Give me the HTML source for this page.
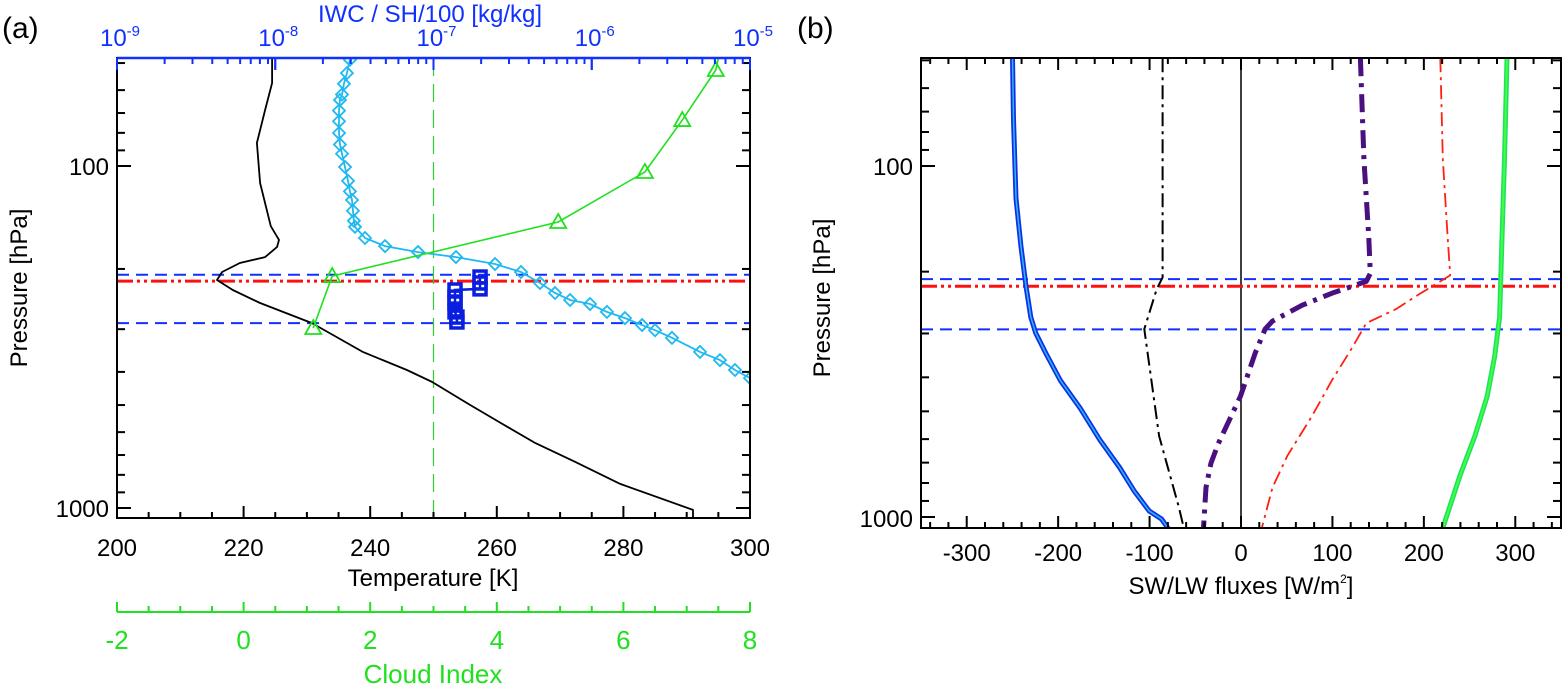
<!DOCTYPE html>
<html><head><meta charset="utf-8"><style>
html,body{margin:0;padding:0;background:#fff;}
svg{display:block;font-family:"Liberation Sans",sans-serif;}
</style></head><body>
<svg id="chart" width="1563" height="686" viewBox="0 0 1563 686" xmlns="http://www.w3.org/2000/svg">
<defs>
<clipPath id="clipA"><rect x="117" y="58" width="633" height="460"/></clipPath>
<clipPath id="clipB"><rect x="921" y="58" width="640" height="470"/></clipPath>
</defs>
<g id="gA"></g>
<g id="gB"></g>
</svg>
<script>
// ---------- Panel (a) data ----------
const tempP = [48.3,57.2,68.6,85.6,112.1,150,164.5,172.4,184.6,192.1,204.2,215.5,230.5,251.5,288,350,395,428,500,564,646,733,850,1013,1070];
const tempK = [224.5,224.5,223.4,222.1,222.6,224.3,225.6,225.3,223.4,219.4,216.6,215.8,218.3,222.6,230.8,238.9,245.8,249.8,255.8,260.6,266.1,272.4,279.5,291.0,291.0];
const cloudP = [40,52.4,73.4,104.1,145.8,209.8,297.7];
const cloudIdx = [7.6,7.46,6.93,6.34,4.97,1.40,1.10];
const iwcP = [48.9,53.5,57.5,61.8,64.1,68.9,74.0,80.1,86.5,92.1,100.7,110.5,118.6,125.7,135.2,144.6,150.6,162.4,171.5,178.5,184.6,193.5,204.2,219.8,235.1,246.5,253.3,267.0,278.4,291.8,302.1,318.0,349.6,369.5,394.9,417.0];
const iwcExp = [-7.528,-7.547,-7.566,-7.578,-7.591,-7.597,-7.597,-7.597,-7.591,-7.578,-7.559,-7.540,-7.528,-7.515,-7.509,-7.503,-7.496,-7.433,-7.306,-7.098,-6.858,-6.611,-6.447,-6.327,-6.232,-6.137,-6.011,-5.904,-5.790,-5.682,-5.600,-5.493,-5.316,-5.190,-5.095,-5.0];
const sqP = [211.2,219.8,228.7,230.5,241.8,251.5,267.0,276.5,285.8];
const sqExp = [-6.706,-6.706,-6.706,-6.864,-6.864,-6.864,-6.864,-6.852,-6.852];
const cloudLevels = [208,288];
const tropLevel = 217;
const ciThreshold = 3;
const tempTicks = [200,220,240,260,280,300];
const ciTicks = [-2,0,2,4,6,8];
const iwcTicks = [-9,-8,-7,-6,-5];
// ---------- Panel (b) data ----------
const swNetP = [49.3,73.6,123.7,168.9,219,269.6,299.1,340.5,408.3,489.8,602.9,722.8,844.7,961.6,1013,1075];
const swNet = [-249.9,-248.8,-246.1,-240.7,-235.3,-229.9,-224.5,-213.7,-197.5,-175.9,-154.3,-132.8,-116.6,-100.4,-86.9,-79.9];
const blkP = [49.3,123.7,207.7,224.7,291.5,587.9,936.8,1075];
const blkF = [-85.8,-85.8,-85.8,-92.3,-105.8,-89.6,-68,-62.6];
const purP = [49.3,95.4,160.3,202.4,213.2,230.5,249.3,276.6,291.5,340.5,452.6,617.4,703.5,824.3,1075];
const purF = [130.6,134.4,139.8,141.4,137.1,99.3,66.9,34.5,26.4,15.6,-0.5,-24.8,-32.9,-38.3,-41];
const redP = [49.3,95.4,160.3,205,213.2,230.5,255.7,280.2,331.8,408.3,515.7,669.1,824.3,1075];
const redF = [218,220.7,226.1,228.8,218,196.4,169.5,137.1,120.9,99.3,77.7,50.7,34.5,22.7];
const lwP = [49.3,95.4,160.3,269.6,349.6,452.6,587.9,760.7,1075];
const lwF = [290.9,288.2,285.5,282.8,277.4,269.3,255.8,239.6,220.7];
const fluxTicks = [-300,-200,-100,0,100,200,300];
const cloudLevelsB = [210,292];
const tropLevelB = 220;

const NS = "http://www.w3.org/2000/svg";
function mk(tag, attrs, parent){const e=document.createElementNS(NS,tag);for(const k in attrs)e.setAttribute(k,attrs[k]);parent.appendChild(e);return e;}
const L10 = Math.log10;
const yA = p => 166 + (L10(p)-2)*342;
const xT = t => 117 + (t-200)*6.33;
const xC = c => 117 + (c+2)*63.3;
const xI = e => 117 + (e+9)*158.25;
const yB = p => 166 + (L10(p)-2)*351;
const xF = f => 1241 + f*(640/700);

const gA = document.getElementById('gA');
const gB = document.getElementById('gB');

function pathD(xs, ys){return xs.map((x,i)=>(i?'L':'M')+x.toFixed(1)+' '+ys[i].toFixed(1)).join(' ');}
function text(parent, x, y, s, opts){const t=mk('text',Object.assign({x:x,y:y,'font-size':24,'text-anchor':'middle',fill:'#000'},opts||{}),parent);t.textContent=s;return t;}

// ===== Panel A =====
const plotA = mk('g',{'clip-path':'url(#clipA)'},gA);


cloudLevels.forEach((p,i)=>{
  const l=mk('line',{x1:117,x2:750,y1:yA(p),y2:yA(p),stroke:'#1030ff','stroke-width':2,'stroke-dasharray':'12 7'},plotA);
  
  
});
const tl=mk('line',{x1:117,x2:750,y1:yA(tropLevel),y2:yA(tropLevel),stroke:'#ff1010','stroke-width':3,'stroke-dasharray':'16 4 3 4 3 4'},plotA);


const vl=mk('line',{x1:xC(ciThreshold),x2:xC(ciThreshold),y1:58,y2:518,stroke:'#30d030','stroke-width':1.2,'stroke-dasharray':'18 8'},plotA);


const tp=mk('path',{d:pathD(tempK.map(xT),tempP.map(yA)),fill:'none',stroke:'#000','stroke-width':1.8,'stroke-linejoin':'round'},plotA);


const cy=mk('path',{d:pathD(iwcExp.map(xI),iwcP.map(yA)),fill:'none',stroke:'#20b8f0','stroke-width':1.8},plotA);


iwcExp.forEach((e,i)=>{
  const x=xI(e),y=yA(iwcP[i]);
  const d=mk('path',{d:`M${x} ${y-6}L${x+6} ${y}L${x} ${y+6}L${x-6} ${y}Z`,fill:'none',stroke:'#20b8f0','stroke-width':1.8},plotA);
  
  
});
const gp=mk('path',{d:pathD(cloudIdx.map(xC),cloudP.map(yA)),fill:'none',stroke:'#20e020','stroke-width':1.6},plotA);


cloudIdx.forEach((c,i)=>{
  if(i===0) return;
  const x=xC(c),y=yA(cloudP[i]);
  const t=mk('path',{d:`M${x} ${y-8}L${x+8} ${y+6}L${x-8} ${y+6}Z`,fill:'none',stroke:'#20e020','stroke-width':1.8},plotA);
  
  
});
const sp=mk('path',{d:pathD(sqExp.map(xI),sqP.map(yA)),fill:'none',stroke:'#0a1ee0','stroke-width':2.5},plotA);


sqExp.forEach((e,i)=>{
  const x=xI(e),y=yA(sqP[i]);
  const r=mk('rect',{x:x-6,y:y-6,width:12,height:12,fill:'none',stroke:'#0a1ee0','stroke-width':3.5},plotA);
  
  
});
const fa=mk('rect',{x:117,y:58,width:633,height:460,fill:'none',stroke:'#000','stroke-width':2},gA);


mk('line',{x1:117,x2:750,y1:58,y2:58,stroke:'#1030ff','stroke-width':2.5},gA);
function pTicks(g, yS, x0, x1){
  [50,60,70,80,90,100,200,300,400,500,600,700,800,900,1000].forEach(p=>{
    const len=(p===100||p===1000)?14:8;
    mk('line',{x1:x0,x2:x0+len,y1:yS(p),y2:yS(p),stroke:'#000','stroke-width':2},g);
    mk('line',{x1:x1,x2:x1-len,y1:yS(p),y2:yS(p),stroke:'#000','stroke-width':2},g);
  });
}
pTicks(gA,yA,117,750);
text(gA,109,175,'100',{'text-anchor':'end'});
text(gA,109,517,'1000',{'text-anchor':'end'});
const ylA=text(gA,0,0,'Pressure [hPa]',{transform:'translate(27,288) rotate(-90)'});


for(let t=200;t<=300;t+=5){const len=t%20===0?12:6;mk('line',{x1:xT(t),x2:xT(t),y1:518,y2:518-len,stroke:'#000','stroke-width':2},gA);}
tempTicks.forEach(t=>{const e=text(gA,xT(t),556,String(t));});
const xt=text(gA,433,586,'Temperature [K]');


mk('line',{x1:117,x2:750,y1:612,y2:612,stroke:'#20e020','stroke-width':2},gA);
for(let c=-2;c<=8;c+=0.5){const len=Math.abs(c%2)<1e-9?10:6;mk('line',{x1:xC(c),x2:xC(c),y1:612,y2:612-len,stroke:'#20e020','stroke-width':2},gA);}
ciTicks.forEach(c=>{const e=text(gA,xC(c),649,String(c),{fill:'#20e020','font-size':26});});
const ct=text(gA,433,683,'Cloud Index',{fill:'#20e020','font-size':26});


for(let d=-9;d<-5;d++){for(let m=1;m<=10;m++){const e=d+L10(m);const len=(m===1||m===10)?12:6;mk('line',{x1:xI(e),x2:xI(e),y1:58,y2:58+len,stroke:'#1030ff','stroke-width':2},gA);}}
iwcTicks.forEach(e=>{
  const t=mk('text',{x:xI(e)+3,y:46,'font-size':24,'text-anchor':'middle',fill:'#1030ff'},gA);
  
  
  t.appendChild(document.createTextNode('10'));
  const s=mk('tspan',{'font-size':15,dy:-10},t);s.textContent=String(e);
});
const it=text(gA,430,22,'IWC / SH/100 [kg/kg]',{fill:'#1030ff'});


const la=text(gA,2,38,'(a)',{'text-anchor':'start','font-size':30});



// ===== Panel B =====
const plotB = mk('g',{'clip-path':'url(#clipB)'},gB);


const zl=mk('line',{x1:xF(0),x2:xF(0),y1:58,y2:528,stroke:'#000','stroke-width':1.5},plotB);


cloudLevelsB.forEach((p,i)=>{
  const l=mk('line',{x1:921,x2:1561,y1:yB(p),y2:yB(p),stroke:'#1030ff','stroke-width':2,'stroke-dasharray':'12 7'},plotB);
  
  
});
const tlb=mk('line',{x1:921,x2:1561,y1:yB(tropLevelB),y2:yB(tropLevelB),stroke:'#ff1010','stroke-width':3,'stroke-dasharray':'16 4 3 4 3 4'},plotB);


function series(xs,ps,style,name){const e=mk('path',Object.assign({d:pathD(xs.map(xF),ps.map(yB)),fill:'none','stroke-linejoin':'round'},style),plotB);return e;}
series(swNet,swNetP,{stroke:'#1030e8','stroke-width':5},'sw-flux-outer');
series(swNet,swNetP,{stroke:'#30b8f0','stroke-width':1.5},'sw-flux-inner');
series(lwF,lwP,{stroke:'#20e060','stroke-width':5},'lw-flux-outer');
series(lwF,lwP,{stroke:'#40ff40','stroke-width':2},'lw-flux-inner');
series(blkF,blkP,{stroke:'#000','stroke-width':2,'stroke-dasharray':'14 5 3 5'},'net-sw-flux-change');
series(purF,purP,{stroke:'#4a1080','stroke-width':5,'stroke-dasharray':'18 7 4 7'},'net-flux-change');
series(redF,redP,{stroke:'#ff2010','stroke-width':1.8,'stroke-dasharray':'14 5 3 5'},'net-lw-flux-change');
const fb=mk('rect',{x:921,y:58,width:640,height:470,fill:'none',stroke:'#000','stroke-width':2},gB);


pTicks(gB,yB,921,1561);
for(let f=-340;f<=340;f+=20){const len=f%100===0?12:6;mk('line',{x1:xF(f),x2:xF(f),y1:528,y2:528-len,stroke:'#000','stroke-width':2},gB);mk('line',{x1:xF(f),x2:xF(f),y1:58,y2:58+len,stroke:'#000','stroke-width':2},gB);}
fluxTicks.forEach(f=>{const e=text(gB,xF(f),561,String(f));});
text(gB,913,175,'100',{'text-anchor':'end'});
text(gB,913,527,'1000',{'text-anchor':'end'});
const ylB=text(gB,0,0,'Pressure [hPa]',{transform:'translate(830,298) rotate(-90)'});


const xb=mk('text',{x:1241,y:594,'font-size':24,'text-anchor':'middle',fill:'#000'},gB);


xb.appendChild(document.createTextNode('SW/LW fluxes [W/m'));
const sup=mk('tspan',{'font-size':12,dy:-11},xb);sup.textContent='2';
const cl=mk('tspan',{dy:11},xb);cl.textContent=']';
const lb=text(gB,797,38,'(b)',{'text-anchor':'start','font-size':30});


</script>
</body></html>
